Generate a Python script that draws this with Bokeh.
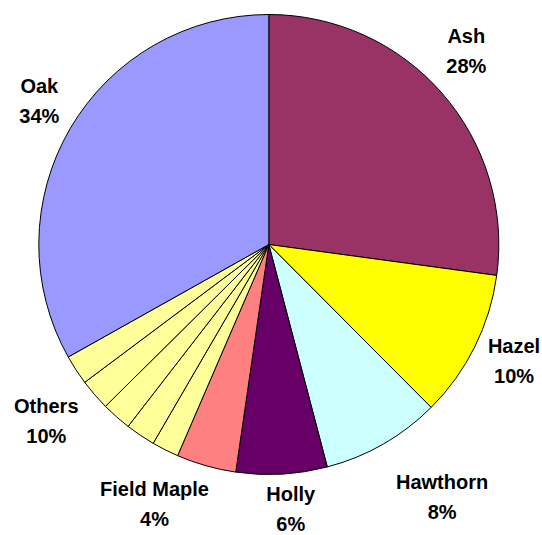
import math
from bokeh.plotting import figure
from bokeh.models import Range1d, ColumnDataSource
from bokeh.embed import file_html
from bokeh.resources import INLINE
from bokeh.core.properties import value

# ---- data (clockwise from 12 o'clock) ----
categories = ["Ash", "Hazel", "Hawthorn", "Holly", "Field Maple", "Others", "Oak"]
shares = [27.2, 10.4, 8.4, 6.4, 4.2, 10.4, 33.2]
others_parts = [1.9, 2.1, 2.1, 2.2, 2.1]
pct_labels = ["28%", "10%", "8%", "6%", "4%", "10%", "34%"]
colors = ["#993366", "#FFFF00", "#CCFFFF", "#660066", "#FF8080", "#FFFF99", "#9999FF"]

# ---- layout ----
W, H = 542, 535
CX, CY, R = 268.3, 291, 230
# label placement: (angle offset from slice middle in degrees, distance in px)
label_offsets = [(-3.3, 276.6), (-1.0, 271.5), (-4.6, 306.6), (-1.5, 265.5),
                 (8.0, 283.1), (9.5, 284.2), (1.6, 270.5)]
LINE_GAP = 15

total = sum(shares)

# build wedges (Others split into parts)
starts, ends, fills = [], [], []
mids = []
cum = 0.0
for cat, s, col in zip(categories, shares, colors):
    parts = others_parts if cat == "Others" else [s]
    scale = s / sum(parts)
    c0 = cum
    for part in parts:
        a0 = cum / total * 2 * math.pi
        cum += part * scale
        a1 = cum / total * 2 * math.pi
        starts.append(math.pi / 2 - a0)
        ends.append(math.pi / 2 - a1)
        fills.append(col)
    mids.append((c0 + cum) / 2 / total * 360.0)

src = ColumnDataSource(dict(start=starts, end=ends, color=fills))

p = figure(width=W, height=H, x_range=Range1d(0, W), y_range=Range1d(0, H),
           output_backend="svg", toolbar_location=None, min_border=0)
p.axis.visible = False
p.grid.visible = False
p.outline_line_color = None
p.background_fill_color = "white"
p.border_fill_color = "white"

p.wedge(x=CX, y=CY, radius=R, start_angle="start", end_angle="end",
        direction="clock", fill_color="color", line_color="black",
        line_width=1, source=src)

nx, ny, px_, py_ = [], [], [], []
for mid, (off, dist) in zip(mids, label_offsets):
    th = math.radians(mid + off)
    lx = CX + dist * math.sin(th)
    ly = CY + dist * math.cos(th)
    nx.append(lx); ny.append(ly + LINE_GAP)
    px_.append(lx); py_.append(ly - LINE_GAP)

common = dict(text_align="center", text_baseline="middle",
              text_font=value("Liberation Sans"), text_font_style="bold",
              text_font_size="20px", text_color="black")
p.text(x=nx, y=ny, text=categories, **common)
p.text(x=px_, y=py_, text=pct_labels, **common)

open("out.html", "w").write(file_html(p, INLINE))
